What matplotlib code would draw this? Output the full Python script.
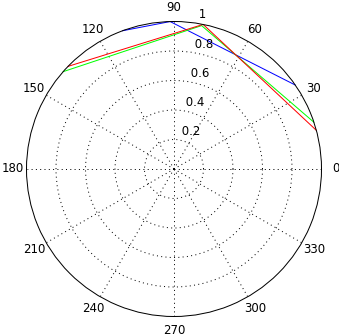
import numpy as np
import matplotlib
matplotlib.use('Agg')
import matplotlib.pyplot as plt

# data (angle in degrees, radius)
blue_theta = [110.4, 91.5, 34.7]
blue_r = [1.0, 1.0, 1.0]
green_theta = [138.7, 79.1, 18.5]
green_r = [1.0, 0.99, 1.0]
red_theta = [135.9, 78.6, 15.2]
red_r = [1.0, 1.0, 1.0]

spoke_angles = list(range(0, 360, 30))
ring_values = [0.2, 0.4, 0.6, 0.8, 1.0]
ring_labels = ['0.2', '0.4', '0.6', '0.8', '1']

plt.rcParams['font.family'] = ['DejaVu Sans']
plt.rcParams['font.size'] = 8.5

fig = plt.figure(figsize=(3.39, 3.36), dpi=100)
fig.patch.set_facecolor('white')
ax = fig.add_axes([26.5 / 339, 19.5 / 336, 295 / 339, 295 / 336], projection='polar')

dotted = (0, (1, 3.3))
px = 0.72

ax.set_ylim(0, 1)
ax.set_thetagrids(spoke_angles, labels=[''] * len(spoke_angles))
ax.set_rgrids(ring_values[:-1], labels=[''] * (len(ring_values) - 1))
ax.grid(True, color='black', linestyle=dotted, linewidth=px)
ax.tick_params(length=0)
ax.spines['polar'].set_color('black')
ax.spines['polar'].set_linewidth(px)

# angle labels outside the circle
for a in spoke_angles:
    ax.text(np.radians(a), 1.095, str(a), ha='center', va='center', clip_on=False)

# ring labels along 82 degrees
for v, lab in zip(ring_values, ring_labels):
    ax.text(np.radians(82), v + 0.01, ' ' + lab, ha='left', va='bottom', clip_on=False)

for th, r, c in [(blue_theta, blue_r, '#0000ff'),
                 (green_theta, green_r, '#00ff00'),
                 (red_theta, red_r, '#ff0000')]:
    ax.plot(np.radians(th), r, color=c, linewidth=px, clip_on=False)

fig.savefig('out.png', dpi=100)
